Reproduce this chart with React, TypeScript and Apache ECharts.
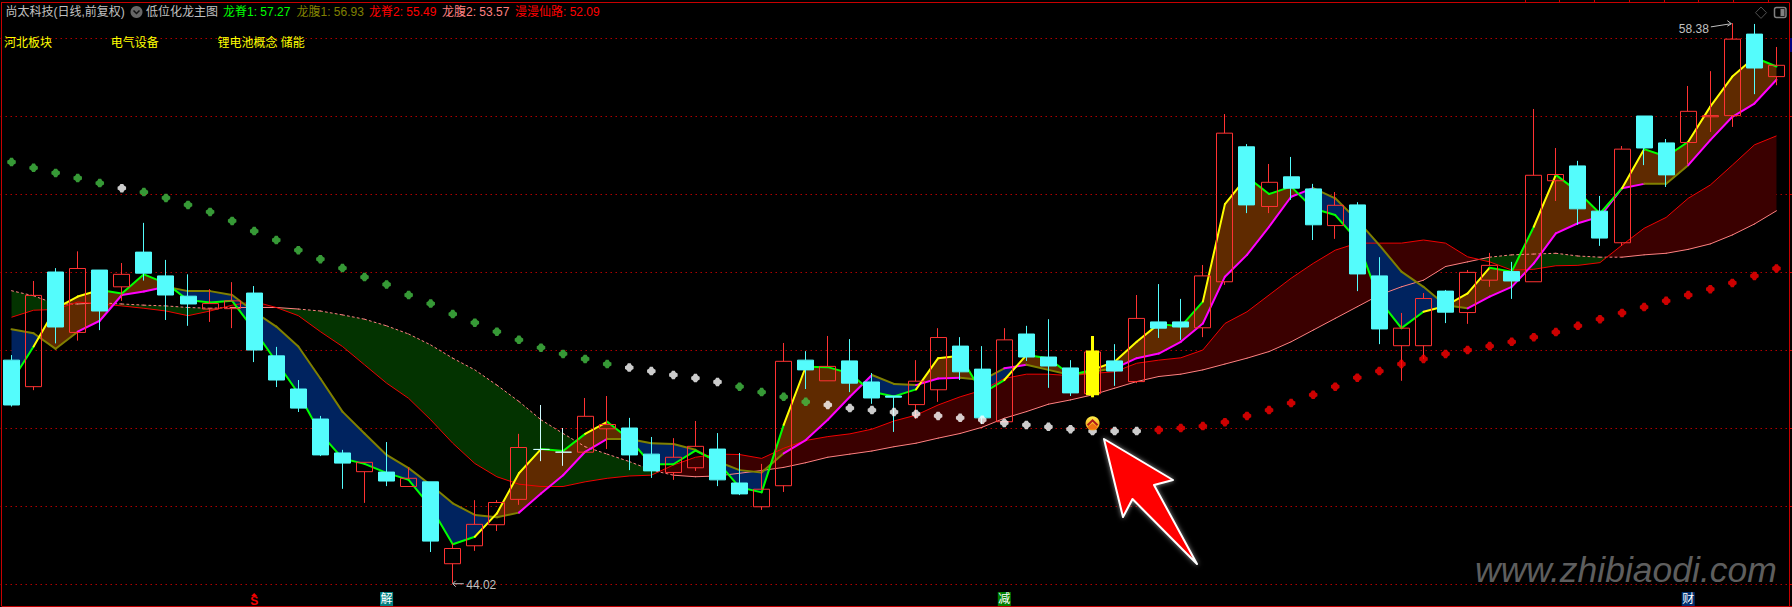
import React, { useEffect, useRef } from "react";
import * as echarts from "echarts";

const opens = [49.74,49.06,52.00,50.45,52.05,51.62,52.51,51.90,51.38,51.05,51.06,51.46,49.85,49.00,48.23,47.36,46.88,46.87,46.50,46.62,44.52,44.98,45.52,46.17,47.45,47.38,47.38,47.98,48.00,47.33,46.86,46.98,47.46,46.59,45.98,46.52,49.74,49.21,49.72,49.18,48.82,48.60,48.98,50.10,49.51,48.16,50.41,49.82,49.54,48.88,49.72,49.19,50.72,50.72,50.57,51.75,55.21,53.68,54.44,54.13,53.19,53.72,51.90,50.11,50.11,51.51,50.96,51.79,52.01,51.75,54.34,54.72,53.56,52.75,56.00,55.31,55.32,55.98,56.01,58.10,57.01];
const closes = [48.59,51.40,50.59,52.09,51.00,51.94,51.97,51.41,51.18,51.19,51.26,50.00,49.23,48.51,47.31,47.10,47.12,46.64,46.71,45.10,44.91,45.53,46.09,47.50,47.45,47.38,48.30,48.09,47.31,46.90,47.25,47.53,46.67,46.31,46.43,49.71,49.49,49.58,49.15,48.77,48.79,49.20,50.32,49.44,48.26,50.26,49.82,49.59,48.90,49.95,49.46,50.81,50.56,50.59,51.90,55.56,53.72,54.30,54.15,53.21,53.71,51.95,50.54,50.56,51.32,50.97,51.99,52.17,51.77,54.48,54.50,53.62,52.87,55.15,55.18,54.49,56.12,56.01,57.97,57.23,57.30];
const lows = [48.55,48.97,50.17,50.24,50.51,51.26,51.78,50.77,50.62,50.72,50.56,49.69,49.05,48.41,47.28,46.44,46.08,46.51,46.50,44.82,44.02,44.85,45.36,46.03,47.15,47.03,47.38,47.46,46.92,46.72,46.67,46.90,46.51,46.28,45.90,46.36,49.00,49.21,48.92,48.62,47.90,48.23,48.67,49.23,48.10,48.16,49.72,49.03,48.82,48.79,49.08,49.15,50.31,50.26,50.33,51.67,53.51,53.51,53.85,52.82,52.85,51.51,50.15,49.21,49.77,50.69,50.67,51.62,51.31,51.75,53.82,53.21,52.67,52.67,54.74,54.18,54.77,55.59,55.72,56.56,56.79];
const highs = [49.87,51.77,52.10,52.53,52.05,52.23,53.26,52.31,51.94,51.56,51.74,51.64,50.08,49.23,48.31,47.44,47.12,47.64,46.99,46.62,45.04,46.15,46.15,47.85,48.59,48.00,48.77,48.82,48.26,47.77,47.74,48.18,47.87,47.36,47.08,50.18,49.97,50.36,50.28,49.41,48.82,49.74,50.56,50.33,50.10,50.56,50.62,50.79,49.74,50.36,50.15,51.41,51.69,51.31,52.18,56.05,55.28,54.77,54.95,54.26,54.05,53.79,52.38,50.95,51.46,51.54,52.05,52.49,52.26,56.18,55.18,54.85,53.95,55.23,56.00,55.41,56.77,57.15,58.38,58.36,57.77];

const dragonSpine1 = [49.19,50.09,51.07,51.37,51.54,51.45,51.94,51.71,51.28,51.22,51.26,50.51,49.70,48.89,47.86,47.22,47.08,46.85,46.67,45.98,45.02,45.21,45.81,46.84,47.46,47.41,47.85,48.16,47.72,47.07,47.07,47.42,47.14,46.48,46.35,48.08,49.57,49.56,49.40,48.93,48.81,48.99,49.79,49.85,48.89,49.23,49.87,49.79,49.36,49.49,49.70,50.21,50.67,50.60,51.24,53.74,54.44,54.00,54.19,53.63,53.46,52.82,51.28,50.56,50.98,51.13,51.45,52.11,52.01,53.16,54.49,54.06,53.50,54.15,55.15,54.96,55.34,56.24,57.01,57.50,57.27];
const dragonBelly1 = [50.53,50.43,50.03,50.47,50.75,51.41,51.50,51.62,51.51,51.51,51.41,50.98,50.60,50.09,49.27,48.42,47.86,47.31,46.97,46.54,46.07,45.77,45.71,45.83,46.32,46.79,47.39,47.72,47.72,47.61,47.59,47.44,47.14,46.92,46.86,47.35,47.69,48.21,48.80,49.36,49.13,49.10,49.27,49.29,49.23,49.53,49.62,49.49,49.36,49.44,49.53,49.79,49.91,50.21,50.68,51.88,52.44,53.16,53.93,54.15,53.89,53.33,52.69,52.01,51.62,51.15,51.07,51.37,51.62,52.22,52.99,53.25,53.42,54.15,54.26,54.26,54.74,55.38,55.98,56.32,56.93];
const dragonSpine2 = [50.84,51.02,51.04,51.23,51.18,51.13,51.07,51.00,50.88,51.00,51.15,51.24,51.09,50.88,50.47,50.09,49.62,49.15,48.76,48.21,47.61,47.09,46.75,46.56,46.50,46.50,46.62,46.71,46.77,46.79,47.05,47.25,47.33,47.32,47.22,47.48,47.68,47.78,47.85,47.97,48.18,48.33,48.59,48.80,48.97,49.27,49.38,49.38,49.34,49.40,49.44,49.66,49.74,49.80,50.00,50.68,50.98,51.41,51.84,52.22,52.56,52.74,52.74,52.74,52.82,52.74,52.39,52.26,52.05,52.07,52.16,52.17,52.24,52.69,53.12,53.40,53.89,54.23,54.74,55.26,55.49];
const dragonBelly2 = [51.52,51.39,51.18,51.18,51.21,51.18,51.15,51.13,51.09,51.07,51.09,51.09,51.09,51.05,51.00,50.90,50.79,50.62,50.41,50.13,49.79,49.49,49.10,48.68,48.21,47.86,47.52,47.33,47.14,46.92,46.79,46.75,46.77,46.84,46.91,46.99,47.11,47.25,47.33,47.41,47.52,47.61,47.74,47.86,48.02,48.25,48.42,48.61,48.72,48.85,49.02,49.19,49.32,49.38,49.49,49.64,49.79,49.96,50.21,50.51,50.81,51.11,51.41,51.62,51.79,52.14,52.26,52.38,52.44,52.46,52.48,52.41,52.38,52.38,52.44,52.48,52.58,52.72,52.95,53.23,53.57];
const immortalRoad = [54.82,54.67,54.54,54.41,54.28,54.15,54.05,53.90,53.72,53.54,53.31,53.05,52.82,52.56,52.33,52.10,51.87,51.68,51.41,51.19,50.92,50.70,50.47,50.26,50.06,49.90,49.77,49.64,49.55,49.46,49.36,49.28,49.18,49.06,48.92,48.80,48.67,48.59,48.51,48.46,48.41,48.36,48.31,48.26,48.21,48.13,48.08,48.03,47.97,47.92,47.92,47.92,47.95,48.00,48.05,48.15,48.31,48.46,48.64,48.85,49.06,49.29,49.46,49.64,49.77,49.90,50.00,50.10,50.21,50.33,50.46,50.62,50.79,50.95,51.10,51.26,51.41,51.56,51.72,51.90,52.09];

const yellowSegments = [1,2,3,21,22,23,26,35,41,42,45,49,50,51,54,55,64,65,66,69,73,76,77,78];
const magentaSegments = [3,4,5,6,23,24,25,26,35,36,37,38,41,42,45,50,51,52,53,54,55,56,57,58,66,67,68,69,70,71,72,73,76,77,78,79];
const whiteDots = [5,28,29,30,31,32,37,38,39,40,41,42,43,44,45,46,47,48,49,50,51];
const firstRedDot = 52;

const dojiBars = [24, 25];
const signalBar = 49;
const signalPrice = 48.12;
const extremes = [[20, 44.02], [78, 58.38]];
const bottomBars = [11, 17, 45, 76];
const bottomTexts = ["S", "解", "减", "财"];

const titleText = "尚太科技(日线,前复权)";
const indicatorName = "低位化龙主图";
const legendNames = ["龙脊1", "龙腹1", "龙脊2", "龙腹2", "漫漫仙路"];
const legendValues = ["57.27", "56.93", "55.49", "53.57", "52.09"];
const sectorTags = ["河北板块", "电气设备", "锂电池概念 储能"];
const watermark = "www.zhibiaodi.com";

const barIndex = opens.map((_, i) => String(i));
const FONT = '"Liberation Sans", "Noto Sans CJK SC", sans-serif';
const DOT_SYMBOL = "path://M2,0H4L4.5,1L5,1.5L6,2V4L5,4.5L4.5,5L4,6H2L1.5,5L1,4.5L0,4V2L1,1.5L1.5,1Z";

// One closed polygon per run of bars on the same side, split where the two lines cross.
function ribbon(a: number[], b: number[], above: string, below: string) {
  return (_: any, api: any) => {
    const children: any[] = [];
    let top: number[][] = [];
    let bottom: number[][] = [];
    const flush = (positive: boolean) => {
      const fill = positive ? above : below;
      children.push({ type: "polygon", shape: { points: [...top, ...bottom.slice().reverse()] }, style: { fill } });
    };
    for (let i = 0; i < a.length; i++) {
      const pa = api.coord([i, a[i]]);
      const pb = api.coord([i, b[i]]);
      top.push(pa);
      bottom.push(pb);
      if (i === a.length - 1) {
        flush(a[i] >= b[i]);
        break;
      }
      const d0 = a[i] - b[i];
      const d1 = a[i + 1] - b[i + 1];
      if (d0 >= 0 !== d1 >= 0) {
        const qa = api.coord([i + 1, a[i + 1]]);
        const t = d0 / (d0 - d1);
        const c = [pa[0] + (qa[0] - pa[0]) * t, pa[1] + (qa[1] - pa[1]) * t];
        top.push(c);
        flush(d0 >= 0);
        top = [c];
        bottom = [];
      }
    }
    return { type: "group", children };
  };
}

function segments(values: number[], colorOf: (i: number) => string, width: number, dashOf?: (i: number) => any) {
  return (params: any, api: any) => {
    const i = params.dataIndex;
    const p = api.coord([i, values[i]]);
    const q = api.coord([i + 1, values[i + 1]]);
    return {
      type: "line",
      shape: { x1: p[0], y1: p[1], x2: q[0], y2: q[1] },
      style: { stroke: colorOf(i), lineWidth: width, lineDash: dashOf ? dashOf(i) : undefined, lineCap: "round" },
    };
  };
}

function segmentSeries(z: number, renderItem: any, values: number[]) {
  return {
    type: "custom",
    z,
    silent: true,
    renderItem,
    encode: { x: 0, y: 1 },
    data: values.slice(0, -1).map((v, i) => [i, v]),
  };
}

function ribbonSeries(z: number, renderItem: any, values: number[]) {
  return { type: "custom", z, silent: true, renderItem, encode: { x: 0, y: 1 }, data: [[0, values[0]]] };
}

function renderSignal(_: any, api: any) {
  const [x, y] = api.coord([api.value(0), api.value(1)]);
  return {
    type: "group",
    children: [
      {
        type: "circle",
        shape: { cx: x, cy: y, r: 7 },
        style: {
          fill: new echarts.graphic.LinearGradient(0, 0, 0, 1, [
            { offset: 0, color: "#fff04a" },
            { offset: 1, color: "#f09010" },
          ]),
        },
      },
      {
        type: "polygon",
        shape: { points: [[x - 5, y + 4], [x, y], [x + 5, y + 4], [x + 3, y + 6], [x - 3, y + 6]] },
        style: { fill: "#f07010" },
      },
      {
        type: "polyline",
        shape: { points: [[x - 5, y + 2], [x, y - 3], [x + 5, y + 2]] },
        style: { stroke: "#b01818", lineWidth: 2, fill: "none" },
      },
    ],
  };
}

function renderExtreme(params: any, api: any) {
  const value = api.value(1);
  const [x, y] = api.coord([api.value(0), value]);
  const color = "#c0c0c0";
  const label = value.toFixed(2);
  if (params.dataIndex === 0) {
    return {
      type: "group",
      children: [
        { type: "polyline", shape: { points: [[x + 11, y + 0.5], [x, y + 0.5]] }, style: { stroke: color, lineWidth: 1, fill: "none" } },
        { type: "polyline", shape: { points: [[x + 3, y - 2.5], [x, y + 0.5], [x + 3, y + 3.5]] }, style: { stroke: color, lineWidth: 1, fill: "none" } },
        { type: "text", style: { text: label, x: x + 13.5, y: y + 1.5, fill: color, font: `12px ${FONT}`, align: "left", verticalAlign: "middle" } },
      ],
    };
  }
  return {
    type: "group",
    children: [
      { type: "polyline", shape: { points: [[x - 21.5, y + 3.7], [x - 1, y + 0.5]] }, style: { stroke: color, lineWidth: 1, fill: "none" } },
      { type: "polyline", shape: { points: [[x - 5, y - 2.5], [x - 1, y + 0.5], [x - 5, y + 3]] }, style: { stroke: color, lineWidth: 1, fill: "none" } },
      { type: "text", style: { text: label, x: x - 23.5, y: y + 5.7, fill: color, font: `12px ${FONT}`, align: "right", verticalAlign: "middle" } },
    ],
  };
}

function renderBottom(params: any, api: any) {
  const x = api.coord([api.value(0), 44])[0];
  const i = params.dataIndex;
  const text = bottomTexts[i];
  if (text === "S") {
    return {
      type: "group",
      children: [
        { type: "polygon", shape: { points: [[x, 593], [x + 3, 596], [x - 3, 596]] }, style: { fill: "#f00000" } },
        { type: "text", style: { text, x, y: 601, fill: "#f00000", font: `bold 12px ${FONT}`, align: "center", verticalAlign: "middle" } },
      ],
    };
  }
  const fill = ["", "#007f7f", "#007f00", "#003070"][i];
  return {
    type: "group",
    children: [
      { type: "rect", shape: { x: x - 6.5, y: 592, width: 13, height: 14 }, style: { fill } },
      { type: "text", style: { text, x, y: 599, fill: "#ffffff", font: `12px ${FONT}`, align: "center", verticalAlign: "middle" } },
    ],
  };
}

function buildGraphic() {
  const txt = (text: string, x: number, y: number, fill: string, font = `12px ${FONT}`, extra: any = {}) => ({
    type: "text",
    x,
    y,
    z: 100,
    silent: true,
    style: { text, fill, font, verticalAlign: "middle", ...extra },
  });
  const frame = "#c80000";
  const ln = (x1: number, y1: number, x2: number, y2: number, stroke = frame, lineWidth = 1) => ({
    type: "line",
    z: 90,
    silent: true,
    shape: { x1, y1, x2, y2 },
    style: { stroke, lineWidth },
  });
  const legendColors = ["#00ff00", "#808000", "#ff0000", "#ff8080", "#ff0000"];
  const legendX = [223, 296.5, 369, 442, 515];
  const tagX = [4, 110.7, 217.5];
  const topTicks = [1525, 1559, 1594, 1629, 1664, 1698, 1733, 1768];
  const rightTicks = [38, 116, 194, 272, 350, 428, 506, 584];
  return [
    ln(1.5, 2, 1.5, 606),
    ln(1.5, 2.5, 1789.5, 2.5),
    ln(1.5, 606.5, 1792, 606.5, "#c00000"),
    ln(1789.5, 2.5, 1789.5, 606),
    ...topTicks.map((x) => ln(x + 0.5, 0, x + 0.5, 2)),
    ...rightTicks.map((y) => ln(1789.5, y + 0.5, 1792, y + 0.5)),
    { type: "rect", z: 91, silent: true, shape: { x: 1790, y: 38, width: 2, height: 14 }, style: { fill: "#000080" } },
    txt(titleText, 5.5, 12, "#c0c0c0"),
    { type: "circle", z: 100, silent: true, shape: { cx: 136.5, cy: 12, r: 6 }, style: { fill: "#666666" } },
    { type: "polyline", z: 101, silent: true, shape: { points: [[133.5, 10.5], [136.5, 13.5], [139.5, 10.5]] }, style: { stroke: "#111111", lineWidth: 1.5, fill: "none" } },
    txt(indicatorName, 146, 12, "#c0c0c0"),
    ...legendNames.map((name, i) => txt(`${name}: ${legendValues[i]}`, legendX[i], 12, legendColors[i])),
    ...sectorTags.map((tag, i) => txt(tag, tagX[i], 42.5, "#ffff00")),
    {
      type: "polygon",
      z: 100,
      silent: true,
      shape: { points: [[1104, 439], [1173, 480], [1154, 485], [1197, 564], [1132.5, 499], [1123, 517]] },
      style: { fill: "#ff0000", stroke: "#ffffff", lineWidth: 2, lineJoin: "round", shadowBlur: 5, shadowColor: "rgba(255,255,255,0.55)" },
    },
    txt(watermark, 1475, 570, "#5e5e5e", `italic 35.5px ${FONT}`, { shadowBlur: 4, shadowColor: "rgba(100,100,100,0.4)" }),
    { type: "polygon", z: 100, silent: true, shape: { points: [[1761, 7], [1766.5, 12.7], [1761, 18.4], [1755.5, 12.7]] }, style: { fill: "none", stroke: "#505050", lineWidth: 1 } },
    { type: "rect", z: 100, silent: true, shape: { x: 1774.5, y: 7.5, width: 11.5, height: 10, r: 2 }, style: { fill: "none", stroke: "#808080", lineWidth: 1.5 } },
    { type: "rect", z: 100, silent: true, shape: { x: 1780.5, y: 9, width: 4, height: 7 }, style: { fill: "#808080" } },
  ];
}

function buildOption() {
  const cyan = "#54fcfc";
  const red = "#ff3232";
  const candleData = opens.map((o, i) => {
    const value = [o, closes[i], lows[i], highs[i]];
    return dojiBars.includes(i)
      ? { value, itemStyle: { color: "#cffcff", color0: "#cffcff", borderColor: "#cffcff", borderColor0: "#cffcff" } }
      : value;
  });
  return {
    animation: false,
    backgroundColor: "#000000",
    grid: { left: 0.5, width: 1787, top: 38, height: 546, containLabel: false },
    xAxis: { type: "category", data: barIndex, show: false, boundaryGap: true },
    yAxis: {
      type: "value",
      min: 44,
      max: 58,
      interval: 2,
      axisLine: { show: false },
      axisTick: { show: false },
      axisLabel: { show: false },
      splitLine: { show: true, lineStyle: { color: "#b00000", width: 1, type: [1.5, 3.5] } },
    },
    series: [
      ribbonSeries(1, ribbon(dragonSpine2, dragonBelly2, "#3a0000", "#033300"), dragonSpine2),
      ribbonSeries(2, ribbon(dragonSpine1, dragonBelly1, "#5f2a00", "#00235f"), dragonSpine1),
      {
        type: "line",
        z: 3,
        silent: true,
        data: dragonSpine2,
        symbol: "none",
        lineStyle: { color: "#f00000", width: 1 },
      },
      segmentSeries(
        3,
        segments(dragonBelly2, () => "#ff8080", 1, (i) => (dragonBelly2[i] > dragonSpine2[i] ? [2, 3] : undefined)),
        dragonBelly2,
      ),
      segmentSeries(
        4,
        segments(dragonBelly1, (i) => (magentaSegments.includes(i) ? "#ff00ff" : "#808000"), 2),
        dragonBelly1,
      ),
      segmentSeries(
        4,
        segments(dragonSpine1, (i) => (yellowSegments.includes(i) ? "#ffff00" : "#00ff00"), 2),
        dragonSpine1,
      ),
      {
        type: "candlestick",
        z: 5,
        silent: true,
        clip: false,
        barWidth: 16.5,
        data: candleData,
        itemStyle: { color: "transparent", color0: cyan, borderColor: red, borderColor0: cyan, borderWidth: 1 },
      },
      {
        type: "candlestick",
        z: 6,
        silent: true,
        clip: false,
        barWidth: 10,
        encode: { x: 0, y: [1, 2, 3, 4] },
        data: [[signalBar, opens[signalBar], closes[signalBar], lows[signalBar], highs[signalBar]]],
        itemStyle: { color: "#ffff00", color0: "#ffff00", borderColor: "#ffff00", borderColor0: "#ffff00", borderWidth: 3 },
      },
      {
        type: "scatter",
        z: 7,
        silent: true,
        clip: false,
        symbol: DOT_SYMBOL,
        symbolSize: 8.5,
        data: immortalRoad,
        itemStyle: {
          color: (p: any) =>
            p.dataIndex >= firstRedDot ? "#ff0000" : whiteDots.includes(p.dataIndex) ? "#ffffff" : "#44bf44",
        },
      },
      {
        type: "custom",
        z: 8,
        silent: true,
        renderItem: renderSignal,
        encode: { x: 0, y: 1 },
        data: [[signalBar, signalPrice]],
      },
      {
        type: "custom",
        z: 8,
        silent: true,
        renderItem: renderExtreme,
        encode: { x: 0, y: 1 },
        data: extremes,
      },
      {
        type: "custom",
        z: 8,
        silent: true,
        renderItem: renderBottom,
        encode: { x: 0, y: 1 },
        data: bottomBars.map((b) => [b, 44]),
      },
    ],
    graphic: { elements: buildGraphic() },
  };
}

export default function App() {
  const ref = useRef<HTMLDivElement>(null);
  useEffect(() => {
    document.body.style.margin = "0";
    document.body.style.background = "#000";
    const chart = echarts.init(ref.current!, undefined, { renderer: "svg" });
    chart.setOption(buildOption() as any);
    return () => chart.dispose();
  }, []);
  return <div ref={ref} style={{ width: 1792, height: 607, display: "block" }} />;
}
